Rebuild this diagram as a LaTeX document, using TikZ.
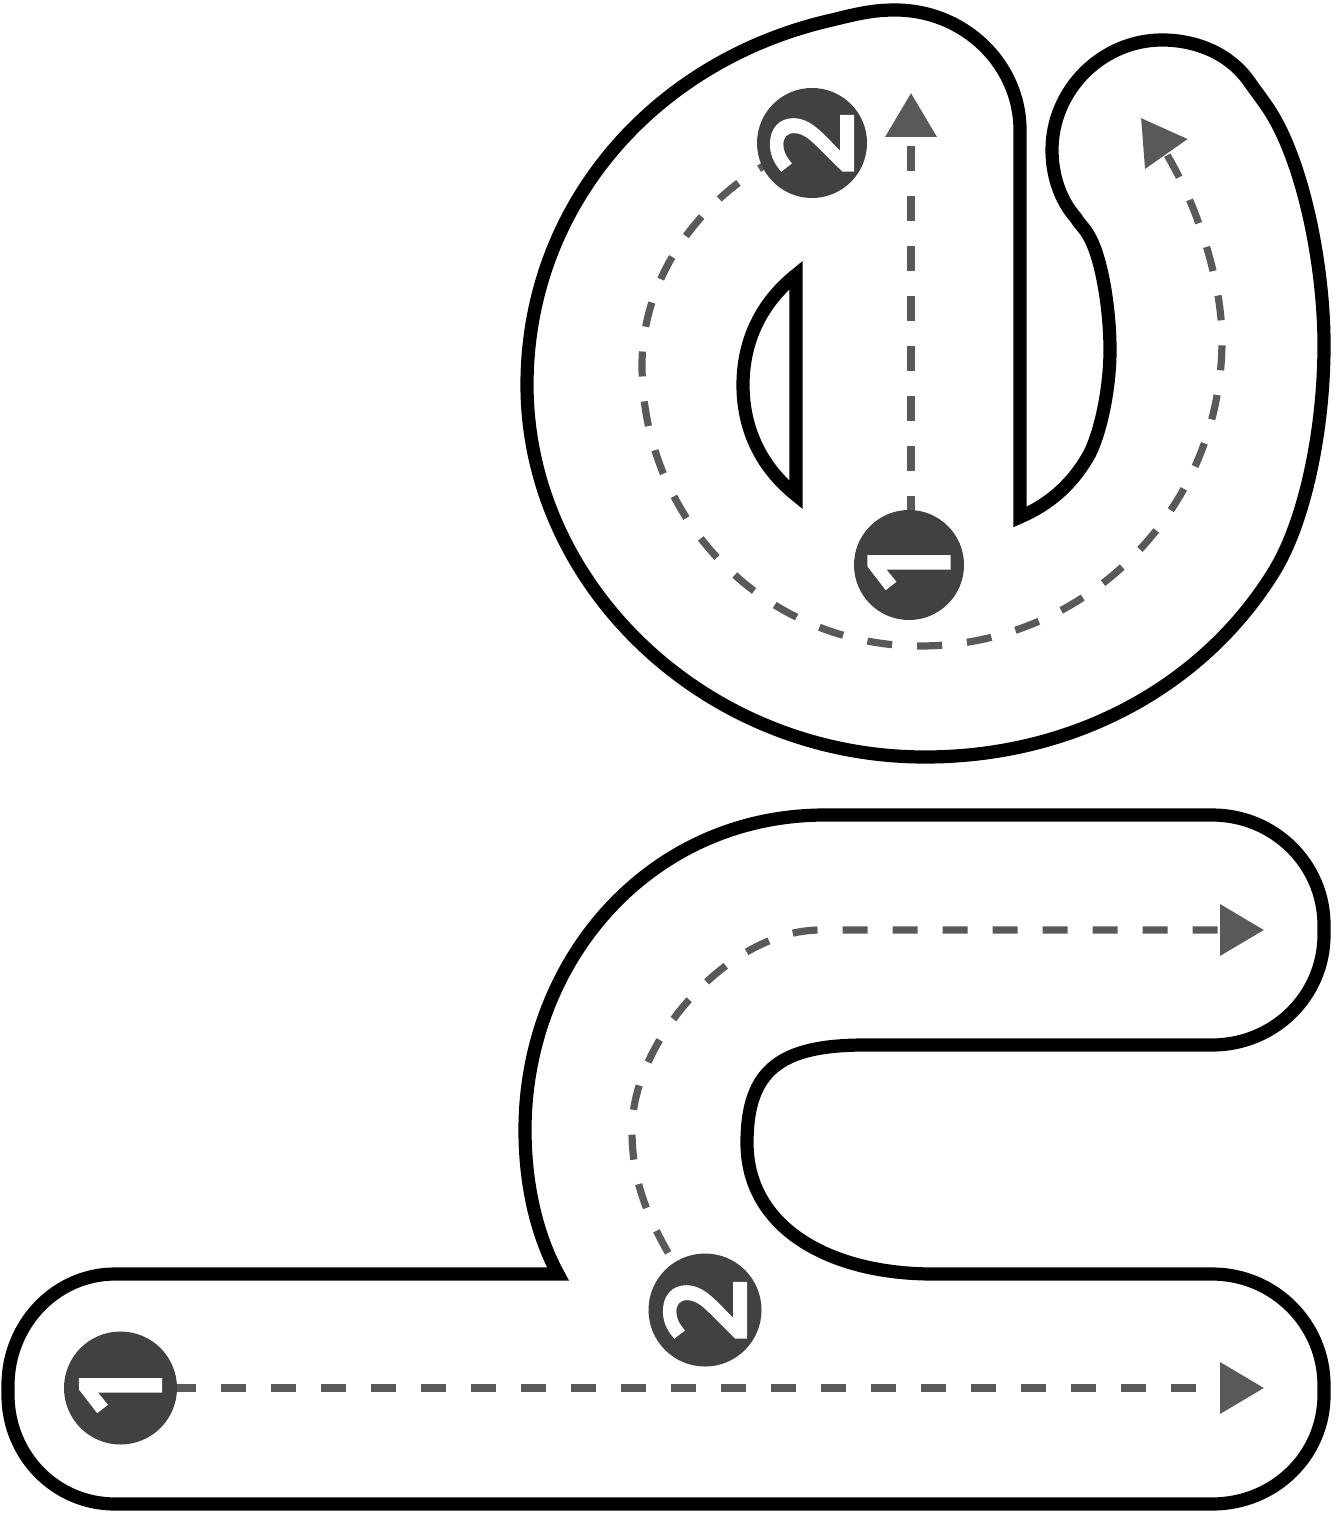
\documentclass[tikz,border=0pt]{standalone}
\usepackage{fontspec}
\newfontfamily\digitfont{Open Sans}[FakeBold=5.5]
\usetikzlibrary{arrows.meta,backgrounds,bending}
\tikzset{
  outline/.style={draw=black,line width=6.6pt,line join=miter,miter limit=10},
  route/.style={draw=routegray,line width=3.6pt,dash pattern=on 12.5pt off 12.5pt,
    -{Triangle[length=22pt,width=25pt,color=routegray,flex]}},
  badge/.style={circle,fill=badgegray,text=badgewhite,inner sep=0pt,rotate=90,
    font=\digitfont\fontsize{54}{54}\selectfont},
  small badge/.style={badge,minimum size=55pt},
  large badge/.style={badge,minimum size=56.5pt}
}
\definecolor{routegray}{HTML}{58595B}
\definecolor{badgegray}{HTML}{414042}
\definecolor{badgewhite}{HTML}{FFFFFF}
\begin{document}
\begin{tikzpicture}[x=0.5pt,y=-0.5pt]
\useasboundingbox (0,0) rectangle (1339,1513);
% badges
\node[small badge] (ua) at (909,565) {1};
\node[small badge] (ub) at (812,143) {2};
\node[large badge] (la) at (120.5,1388) {1};
\node[large badge] (lb) at (705,1310) {2};
\coordinate (uend1) at (911,93);
\coordinate (uend2) at (1141,118);
\coordinate (lend1) at (1264,1388);
\coordinate (lend2) at (1264,930);
\begin{pgfonlayer}{background}
% upper track
\path[outline] (832,20) .. controls (860,13) and (875,10) .. (895,10)
 .. controls (965,10) and (1020,65) .. (1020,130)
 -- (1020,517)
 .. controls (1050,504) and (1073,484) .. (1090,453)
 .. controls (1102,428) and (1110,385) .. (1110,350)
 .. controls (1110,310) and (1102,260) .. (1090,238)
 .. controls (1085,228) and (1080,225) .. (1076,218)
 .. controls (1060,200) and (1052,175) .. (1052,150)
 .. controls (1052,90) and (1102,40) .. (1162,40)
 .. controls (1198,40) and (1230,55) .. (1248,80)
 .. controls (1255,90) and (1262,99) .. (1268,108)
 .. controls (1303,160) and (1324,265) .. (1324,345)
 .. controls (1324,430) and (1305,520) .. (1275,570)
 .. controls (1205,685) and (1075,757) .. (925,757)
 .. controls (705,757) and (527,585) .. (527,385)
 .. controls (527,205) and (655,60) .. (832,20) -- cycle;
\path[outline] (796,275) -- (796,495)
 .. controls (762,468) and (743,430) .. (743,385)
 .. controls (743,340) and (762,302) .. (796,275) -- cycle;
% lower track
\path[outline] (115,1274) -- (558,1274)
 .. controls (535,1232) and (525,1180) .. (525,1130)
 .. controls (525,960) and (650,815) .. (825,815)
 -- (1212,815)
 .. controls (1275,815) and (1324,865) .. (1324,925)
 -- (1324,935)
 .. controls (1324,995) and (1275,1045) .. (1212,1045)
 -- (865,1045)
 .. controls (780,1045) and (747,1070) .. (747,1143)
 .. controls (747,1225) and (825,1273) .. (930,1274)
 -- (1212,1274)
 .. controls (1275,1274) and (1324,1325) .. (1324,1385)
 -- (1324,1395)
 .. controls (1324,1455) and (1275,1504) .. (1212,1504)
 -- (115,1504)
 .. controls (55,1504) and (8,1455) .. (8,1395)
 -- (8,1385)
 .. controls (8,1325) and (55,1274) .. (115,1274) -- cycle;
% routes
\draw[route,dash phase=3pt] (ua.center) ++(2,0) -- (uend1);
\draw[route,dash phase=8pt] (ub.center) .. controls (710,180) and (642,270) .. (642,365)
 .. controls (642,520) and (765,646) .. (920,646)
 .. controls (1085,646) and (1222,510) .. (1222,340)
 .. controls (1222,270) and (1186,170) .. (uend2);
\draw[route] (la.center) -- (lend1);
\draw[route,dash phase=16pt] (lb.center) .. controls (645,1225) and (632,1180) .. (632,1130)
 .. controls (632,1040) and (730,930) .. (820,930) -- (lend2);
\end{pgfonlayer}
\end{tikzpicture}
\end{document}
